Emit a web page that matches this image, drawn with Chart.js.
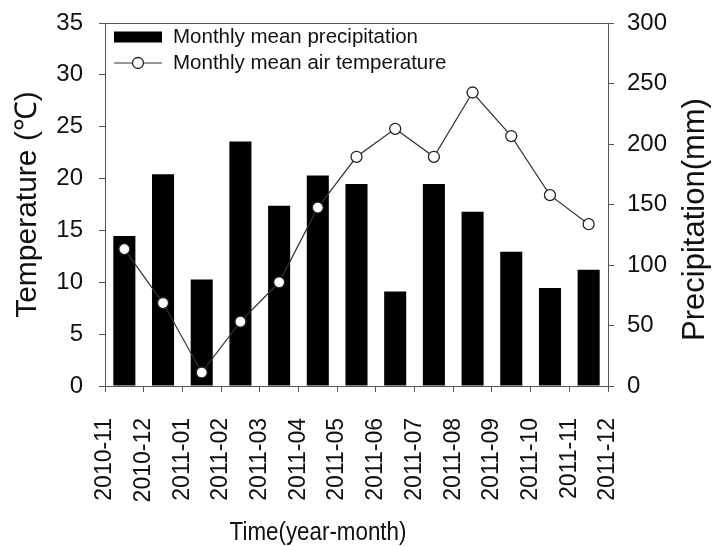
<!DOCTYPE html>
<html>
<head>
<meta charset="utf-8">
<script src="https://cdn.jsdelivr.net/npm/chart.js@4.4.1/dist/chart.umd.min.js"></script>
<style>
    html, body { margin: 0; padding: 0; background: #fff; }
    #wrap { width: 713px; height: 546px; position: relative; }
</style>
</head>
<body>
<div id="wrap"><canvas id="climateChart"></canvas></div>
<script>
// Tick labels sit on month boundaries, bars/points sit between them
const tickLabels = ['2010-11', '2010-12', '2011-01', '2011-02', '2011-03', '2011-04', '2011-05',
                    '2011-06', '2011-07', '2011-08', '2011-09', '2011-10', '2011-11', '2011-12'];
const precipitation = [124, 175, 88, 202, 149, 174, 167, 78, 167, 144, 111, 81, 96];   // mm
const temperature = [13.2, 8.0, 1.3, 6.2, 10.0, 17.2, 22.1, 24.8, 22.1, 28.3, 24.1, 18.4, 15.6]; // °C
const tempTicks = { min: 0, max: 35, step: 5 };
const precipTicks = { min: 0, max: 300, step: 50 };

const AXIS_COLOR = '#555';
const SANS = "'Liberation Sans', Arial, Helvetica, sans-serif";

// month i is centred halfway between boundary i and i+1
function toPoints(values) {
    return values.map((v, i) => ({ x: i + 0.5, y: v }));
}

// fixed axis sizes; drop the label overhang padding so the plot top stays put
function fixWidth(w) {
    return (s) => { s.width = w; s.paddingTop = 0; s.paddingBottom = 0; };
}

// Legend drawn inside the plot area (bar swatch + line-with-circle swatch)
const innerLegend = {
    id: 'innerLegend',
    afterDraw(chart) {
        const { ctx, chartArea } = chart;
        const x0 = chartArea.left + 9;
        const sw = 48;
        const rows = [chartArea.top + 14, chartArea.top + 40];
        ctx.save();
        ctx.font = '20.5px ' + SANS;
        ctx.textBaseline = 'middle';
        chart.data.datasets.forEach((ds, i) => {
            const y = rows[i];
            if (ds.type === 'line') {
                ctx.strokeStyle = ds.borderColor;
                ctx.lineWidth = ds.borderWidth;
                ctx.beginPath();
                ctx.moveTo(x0, y);
                ctx.lineTo(x0 + sw, y);
                ctx.stroke();
                ctx.beginPath();
                ctx.arc(x0 + sw / 2, y, ds.pointRadius, 0, Math.PI * 2);
                ctx.fillStyle = ds.pointBackgroundColor;
                ctx.fill();
                ctx.strokeStyle = ds.pointBorderColor;
                ctx.lineWidth = ds.pointBorderWidth;
                ctx.stroke();
            } else {
                ctx.fillStyle = ds.backgroundColor;
                ctx.fillRect(x0, y - 5.5, sw, 11);
            }
            ctx.fillStyle = '#111';
            ctx.fillText(ds.label, x0 + sw + 11, y);
        });
        ctx.restore();
    }
};

// Top frame line, right-hand title (reads bottom to top) and the x title
const frameAndTitles = {
    id: 'frameAndTitles',
    afterDraw(chart) {
        const { ctx, chartArea } = chart;
        ctx.save();
        ctx.strokeStyle = AXIS_COLOR;
        ctx.lineWidth = 1;
        ctx.beginPath();
        ctx.moveTo(chartArea.left, chartArea.top + 0.5);
        ctx.lineTo(chartArea.right, chartArea.top + 0.5);
        ctx.stroke();
        ctx.fillStyle = '#111';
        ctx.textAlign = 'center';
        ctx.textBaseline = 'middle';

        ctx.save();
        ctx.translate(chart.width - 18, (chartArea.top + chartArea.bottom) / 2 + 15);
        ctx.rotate(-Math.PI / 2);
        ctx.font = '31px ' + SANS;
        ctx.fillText('Precipitation(mm)', 0, 0);
        ctx.restore();

        // x title is set narrow in the original figure
        ctx.save();
        ctx.translate(chartArea.left + 213, chart.height - 13);
        ctx.scale(0.86, 1);
        ctx.font = '26px ' + SANS;
        ctx.fillText('Time(year-month)', 0, 0);
        ctx.restore();
        ctx.restore();
    }
};

new Chart(document.getElementById('climateChart'), {
    type: 'bar',
    data: {
        datasets: [{
            type: 'bar',
            label: 'Monthly mean precipitation',
            data: toPoints(precipitation),
            yAxisID: 'y1',
            backgroundColor: '#000',
            borderWidth: 0,
            barPercentage: 0.57,
            categoryPercentage: 1.0,
            order: 2
        }, {
            type: 'line',
            label: 'Monthly mean air temperature',
            data: toPoints(temperature),
            yAxisID: 'y',
            borderColor: '#333',
            borderWidth: 1.2,
            pointRadius: 5.5,
            pointBackgroundColor: '#fff',
            pointBorderColor: '#222',
            pointBorderWidth: 1.3,
            tension: 0,
            order: 1
        }]
    },
    options: {
        responsive: true,
        maintainAspectRatio: false,
        animation: false,
        layout: { padding: { top: 23, left: 0, right: 0, bottom: 0 } },
        plugins: {
            legend: { display: false },
            tooltip: { enabled: false }
        },
        scales: {
            x: {
                type: 'linear',
                min: 0,
                max: tickLabels.length - 1,
                offset: false,
                afterFit: (s) => { s.height = 160; },
                border: { display: true, color: AXIS_COLOR },
                grid: { drawOnChartArea: false, drawTicks: true, tickLength: 6, color: AXIS_COLOR, offset: false },
                ticks: {
                    stepSize: 1,
                    autoSkip: false,
                    maxRotation: 90,
                    minRotation: 90,
                    padding: 26,
                    color: '#111',
                    font: { size: 23, family: SANS },
                    callback: (v) => tickLabels[v]
                }
            },
            y: {
                position: 'left',
                min: tempTicks.min,
                max: tempTicks.max,
                afterFit: fixWidth(105),
                border: { display: true, color: AXIS_COLOR },
                grid: { drawOnChartArea: false, drawTicks: true, tickLength: 6, color: AXIS_COLOR },
                ticks: {
                    stepSize: tempTicks.step,
                    padding: 16,
                    color: '#111',
                    font: { size: 24, family: SANS }
                },
                title: {
                    display: true,
                    text: 'Temperature (℃)',
                    color: '#111',
                    font: { size: 30, family: SANS },
                    padding: { top: 10, bottom: 0 }
                }
            },
            y1: {
                position: 'right',
                min: precipTicks.min,
                max: precipTicks.max,
                afterFit: fixWidth(105),
                border: { display: true, color: AXIS_COLOR },
                grid: { drawOnChartArea: false, drawTicks: true, tickLength: 6, color: AXIS_COLOR },
                ticks: {
                    stepSize: precipTicks.step,
                    padding: 13,
                    color: '#111',
                    font: { size: 24, family: SANS }
                }
            }
        }
    },
    plugins: [innerLegend, frameAndTitles]
});
</script>
</body>
</html>
